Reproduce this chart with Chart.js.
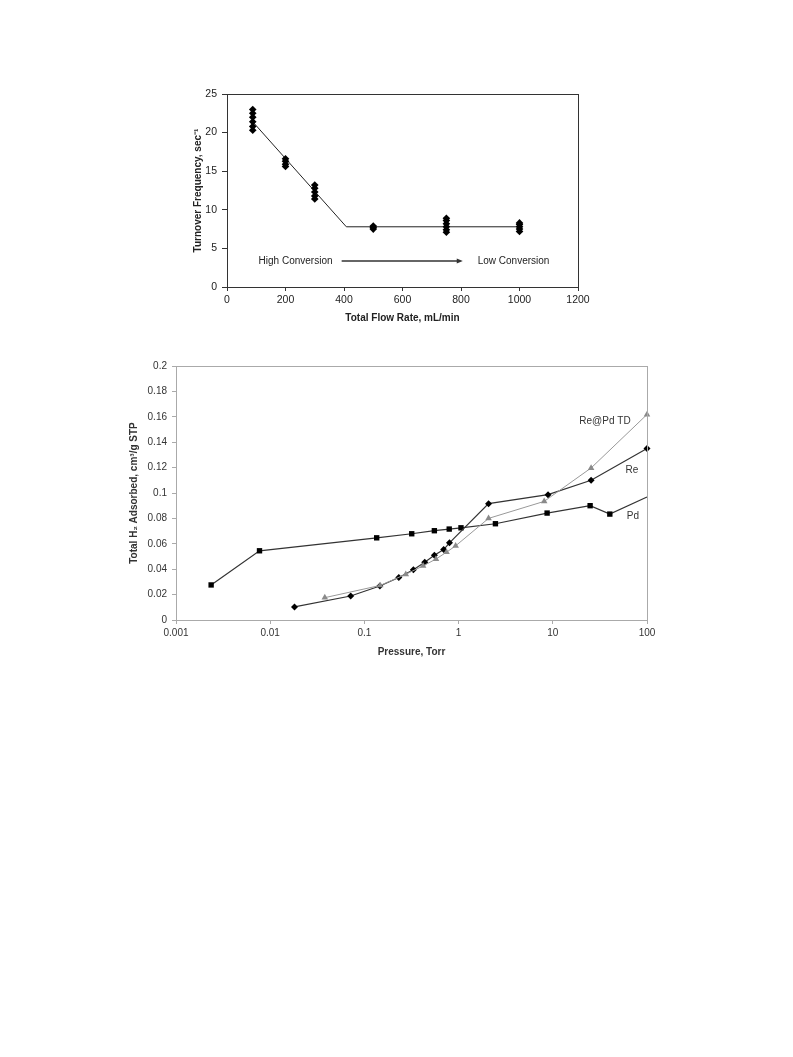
<!DOCTYPE html>
<html>
<head>
<meta charset="utf-8">
<script src="https://cdn.jsdelivr.net/npm/chart.js@4/dist/chart.umd.min.js"></script>
<style>
  body { margin: 0; background: #fff; }
  canvas { position: absolute; }
  #tofChart { left: 170px; top: 80px; }
  #h2Chart { left: 100px; top: 350px; }
</style>
</head>
<body>
<canvas id="tofChart" width="430" height="255"></canvas>
<canvas id="h2Chart" width="570" height="320"></canvas>
<script>
// Top chart: turnover frequency vs total flow rate
const flowRates = [88, 88, 88, 88, 88, 88, 200, 200, 200, 200, 300, 300, 300, 300, 300,
                   500, 500, 500, 750, 750, 750, 750, 750, 750, 1000, 1000, 1000, 1000, 1000];
const tofValues = [20.3, 20.8, 21.4, 22.0, 22.5, 23.0, 15.6, 15.9, 16.3, 16.6, 11.4, 11.8, 12.3, 12.8, 13.2,
                   7.5, 7.7, 7.9, 7.1, 7.4, 7.8, 8.2, 8.6, 8.9, 7.2, 7.5, 7.8, 8.1, 8.3];
const trendX = [88, 408, 1000];
const trendY = [21.4, 7.8, 7.8];
const tofXTicks = [0, 200, 400, 600, 800, 1000, 1200];
const tofYTicks = [0, 5, 10, 15, 20, 25];

// Bottom chart: total H2 adsorbed vs pressure
const pdPressure = [0.00236, 0.0077, 0.135, 0.318, 0.553, 0.795, 1.06, 2.46, 8.7, 24.9, 40.3, 100];
const pdAdsorbed = [0.0276, 0.0545, 0.0647, 0.0679, 0.0703, 0.0716, 0.0726, 0.0758, 0.0842, 0.0900, 0.0834, 0.0968];
const rePressure = [0.0181, 0.0715, 0.146, 0.232, 0.331, 0.437, 0.553, 0.695, 0.80, 2.08, 8.9, 25.5, 100];
const reAdsorbed = [0.0103, 0.0189, 0.0268, 0.0334, 0.0395, 0.0455, 0.0510, 0.0555, 0.0608, 0.0916, 0.0987, 0.1100, 0.1350];
const tdPressure = [0.038, 0.147, 0.275, 0.42, 0.575, 0.745, 0.93, 2.08, 8.1, 25.5, 100];
const tdAdsorbed = [0.0176, 0.0272, 0.0360, 0.0426, 0.0480, 0.0534, 0.0584, 0.0800, 0.0934, 0.1197, 0.1618];
const pressureTicks = [0.001, 0.01, 0.1, 1, 10, 100];
const seriesNames = ['Pd', 'Re', 'Re@Pd TD'];

const toPoints = (xs, ys) => xs.map((x, i) => ({ x: x, y: ys[i] }));

// annotation placement in data units
const tofNotes = { textY: 3.37, highX: 108, arrowFrom: 392, arrowTo: 806, lowX: 857 };
const h2Labels = [
    { text: 'Re@Pd TD', x: 35.8, y: 0.1567 },
    { text: 'Re', x: 69, y: 0.118 },
    { text: 'Pd', x: 71, y: 0.0819 }
];

const boxPlugin = {
    id: 'box',
    afterDraw(chart, args, opts) {
        const a = chart.chartArea;
        const ctx = chart.ctx;
        ctx.save();
        ctx.strokeStyle = opts.color;
        ctx.lineWidth = 1;
        ctx.strokeRect(Math.round(a.left) + 0.5, Math.round(a.top) + 0.5,
            Math.round(a.right - a.left), Math.round(a.bottom - a.top));
        ctx.restore();
    }
};

const tofNotePlugin = {
    id: 'tofNotes',
    afterDraw(chart) {
        const ctx = chart.ctx;
        const xs = chart.scales.x, ys = chart.scales.y;
        const y = ys.getPixelForValue(tofNotes.textY);
        ctx.save();
        ctx.font = '10px "Liberation Sans", Arial, sans-serif';
        ctx.fillStyle = '#222';
        ctx.textBaseline = 'middle';
        ctx.textAlign = 'left';
        ctx.fillText('High Conversion', xs.getPixelForValue(tofNotes.highX), y);
        ctx.fillText('Low Conversion', xs.getPixelForValue(tofNotes.lowX), y);
        const x1 = xs.getPixelForValue(tofNotes.arrowFrom);
        const x2 = xs.getPixelForValue(tofNotes.arrowTo);
        ctx.strokeStyle = '#333';
        ctx.lineWidth = 1.5;
        ctx.beginPath();
        ctx.moveTo(x1, y);
        ctx.lineTo(x2 - 5, y);
        ctx.stroke();
        ctx.fillStyle = '#333';
        ctx.beginPath();
        ctx.moveTo(x2, y);
        ctx.lineTo(x2 - 6, y - 2.5);
        ctx.lineTo(x2 - 6, y + 2.5);
        ctx.closePath();
        ctx.fill();
        ctx.restore();
    }
};

const h2LabelPlugin = {
    id: 'h2Labels',
    afterDraw(chart) {
        const ctx = chart.ctx;
        ctx.save();
        ctx.font = '10px "Liberation Sans", Arial, sans-serif';
        ctx.fillStyle = '#333';
        ctx.textAlign = 'center';
        ctx.textBaseline = 'middle';
        h2Labels.forEach(l => {
            ctx.fillText(l.text, chart.scales.x.getPixelForValue(l.x), chart.scales.y.getPixelForValue(l.y));
        });
        ctx.restore();
    }
};

function initTofChart() {
    const ctx = document.getElementById('tofChart').getContext('2d');
    new Chart(ctx, {
        type: 'scatter',
        data: {
            datasets: [{
                data: toPoints(flowRates, tofValues),
                pointStyle: 'rectRot',
                pointRadius: 3.8,
                backgroundColor: '#000',
                borderColor: '#000',
                borderWidth: 0,
                showLine: false
            }, {
                data: toPoints(trendX, trendY),
                showLine: true,
                pointRadius: 0,
                borderColor: '#222',
                borderWidth: 1
            }]
        },
        options: {
            responsive: false,
            animation: false,
            layout: { padding: { top: 14, right: 22, bottom: 0, left: 0 } },
            plugins: { legend: { display: false }, tooltip: { enabled: false }, box: { color: '#333' } },
            scales: {
                x: {
                    type: 'linear', min: 0, max: 1200,
                    afterBuildTicks: s => { s.ticks = tofXTicks.map(v => ({ value: v })); },
                    afterFit: s => { s.height = 48; },
                    grid: { drawOnChartArea: false, tickLength: 4, color: '#333' },
                    border: { color: '#333' },
                    ticks: { color: '#222', padding: 3, maxRotation: 0,
                             callback: v => String(v),
                             font: { family: '"Liberation Sans", Arial', size: 10.5 } },
                    title: { display: true, text: 'Total Flow Rate, mL/min', color: '#222',
                             padding: { top: 0, bottom: 11 },
                             font: { family: '"Liberation Sans", Arial', size: 10, weight: 'bold' } }
                },
                y: {
                    type: 'linear', min: 0, max: 25,
                    afterBuildTicks: s => { s.ticks = tofYTicks.map(v => ({ value: v })); },
                    afterFit: s => { s.width = 57; },
                    grid: { drawOnChartArea: false, tickLength: 5, color: '#333' },
                    border: { color: '#333' },
                    ticks: { color: '#222', padding: 5,
                             callback: v => String(v),
                             font: { family: '"Liberation Sans", Arial', size: 10.5 } },
                    title: { display: true, text: 'Turnover Frequency, sec\u207B\u00B9', color: '#222',
                             padding: { top: 22, bottom: 0 },
                             font: { family: '"Liberation Sans", Arial', size: 10, weight: 'bold' } }
                }
            }
        },
        plugins: [boxPlugin, tofNotePlugin]
    });
}

function initH2Chart() {
    const ctx = document.getElementById('h2Chart').getContext('2d');
    const dark = '#333';
    const light = '#999';
    new Chart(ctx, {
        type: 'line',
        data: {
            datasets: [{
                label: seriesNames[2],
                data: toPoints(tdPressure, tdAdsorbed),
                borderColor: light,
                backgroundColor: '#8a8a8a',
                borderWidth: 1,
                pointStyle: 'triangle',
                pointRadius: 3.8,
                pointBorderWidth: 0
            }, {
                label: seriesNames[1],
                data: toPoints(rePressure, reAdsorbed),
                borderColor: dark,
                backgroundColor: '#000',
                borderWidth: 1.2,
                pointStyle: 'rectRot',
                pointRadius: 3.5,
                pointBorderWidth: 0
            }, {
                label: seriesNames[0],
                data: toPoints(pdPressure, pdAdsorbed),
                borderColor: dark,
                backgroundColor: '#000',
                borderWidth: 1.2,
                pointStyle: 'rect',
                pointRadius: pdPressure.map((p, i) => i === pdPressure.length - 1 ? 0 : 3.8),
                pointBorderWidth: 0
            }]
        },
        options: {
            responsive: false,
            animation: false,
            clip: false,
            layout: { padding: { top: 16, right: 23, bottom: 0, left: 0 } },
            plugins: { legend: { display: false }, tooltip: { enabled: false }, box: { color: '#aaa' } },
            scales: {
                x: {
                    type: 'logarithmic', min: 0.001, max: 100,
                    afterBuildTicks: s => { s.ticks = pressureTicks.map(v => ({ value: v })); },
                    afterFit: s => { s.height = 50; },
                    grid: { drawOnChartArea: false, tickLength: 4, color: '#aaa' },
                    border: { color: '#aaa' },
                    ticks: { color: '#333', padding: 3, maxRotation: 0, autoSkip: false,
                             callback: v => String(v),
                             font: { family: '"Liberation Sans", Arial', size: 10 } },
                    title: { display: true, text: 'Pressure, Torr', color: '#333',
                             padding: { top: 0, bottom: 12 },
                             font: { family: '"Liberation Sans", Arial', size: 10, weight: 'bold' } }
                },
                y: {
                    type: 'linear', min: 0, max: 0.2,
                    ticks: { stepSize: 0.02, color: '#333', padding: 5,
                             callback: v => String(+v.toFixed(2)),
                             font: { family: '"Liberation Sans", Arial', size: 10 } },
                    afterFit: s => { s.width = 76; },
                    grid: { drawOnChartArea: false, tickLength: 4, color: '#aaa' },
                    border: { color: '#aaa' },
                    title: { display: true, text: 'Total H\u2082 Adsorbed, cm\u00B3/g STP', color: '#333',
                             padding: { top: 28, bottom: 0 },
                             font: { family: '"Liberation Sans", Arial', size: 10, weight: 'bold' } }
                }
            }
        },
        plugins: [boxPlugin, h2LabelPlugin]
    });
}

initTofChart();
initH2Chart();
</script>
</body>
</html>
